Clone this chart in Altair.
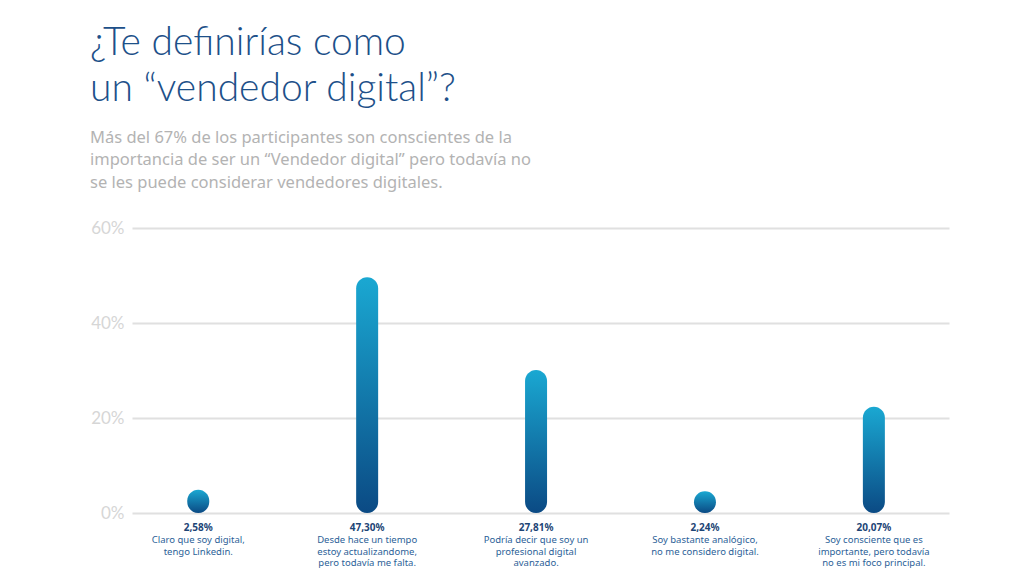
import altair as alt
import pandas as pd

# ---- data ----
categories = [
    "Claro que soy digital,\ntengo Linkedin.",
    "Desde hace un tiempo\nestoy actualizandome,\npero todavía me falta.",
    "Podría decir que soy un\nprofesional digital\navanzado.",
    "Soy bastante analógico,\nno me considero digital.",
    "Soy consciente que es\nimportante, pero todavía\nno es mi foco principal.",
]
values = [2.58, 47.30, 27.81, 2.24, 20.07]
y_ticks = [0, 20, 40, 60]

title_lines = ["¿Te definirías como", "un “vendedor digital”?"]
subtitle_lines = [
    "Más del 67% de los participantes son conscientes de la",
    "importancia de ser un “Vendedor digital” pero todavía no",
    "se les puede considerar vendedores digitales.",
]

df = pd.DataFrame({
    "idx": list(range(len(categories))),
    "cat": categories,
    "value": values,
    "label": [f"{v:.2f}".replace(".", ",") + "%" for v in values],
    "zero": [0] * len(values),
})

x_enc = alt.X("idx:Q", scale=alt.Scale(domain=[-0.3626, 4.4152], nice=False, zero=False), axis=None)
y_scale = alt.Scale(domain=[0, 60], nice=False)

grad = alt.Gradient(
    gradient="linear",
    stops=[alt.GradientStop(color="#1aa8d2", offset=0),
           alt.GradientStop(color="#0b4a84", offset=1)],
    x1=0, x2=0, y1=0, y2=1,
)

base = alt.Chart(df)

bars = base.mark_bar(width=22, cornerRadius=11, yOffset=-11, color=grad).encode(
    x=x_enc,
    y=alt.Y("value:Q", scale=y_scale,
            axis=alt.Axis(values=y_ticks, labelExpr="datum.value + '%'", title=None,
                          domain=False, ticks=False, grid=True, gridColor="#e0e0e0",
                          gridWidth=2, labelColor="#d6d6d6", labelFontSize=17,
                          labelFont="Lato", labelPadding=8)),
    y2="zero:Q",
)

pct = base.mark_text(dy=18, fontSize=10, fontWeight="bold", color="#1d4576",
                     font="Noto Sans", baseline="alphabetic").encode(
    x=x_enc, y=alt.Y("zero:Q", scale=y_scale), text="label:N")

cats = base.mark_text(dy=30, fontSize=9.5, lineHeight=11.5, lineBreak="\n", color="#2c5f98",
                      font="Noto Sans", baseline="alphabetic").encode(
    x=x_enc, y=alt.Y("zero:Q", scale=y_scale), text="cat:N")

chart = alt.layer(bars, pct, cats).properties(
    width=817,
    height=285,
    autosize=alt.AutoSizeParams(type="none"),
    padding={"left": 124, "top": 220, "right": 40, "bottom": 60},
    title=alt.TitleParams(
        text=title_lines,
        subtitle=subtitle_lines,
        anchor="start",
        frame="group",
        dx=-42,
        offset=28,
        font="Lato",
        fontWeight=300,
        fontSize=39,
        lineHeight=46,
        color="#1d5089",
        subtitleFont="Noto Sans",
        subtitleFontSize=16.5,
        subtitleLineHeight=22.5,
        subtitleColor="#b3b3b3",
        subtitlePadding=21,
    ),
).configure_view(stroke=None)

chart.save("out.html", embed_options={"renderer": "svg", "actions": False})
